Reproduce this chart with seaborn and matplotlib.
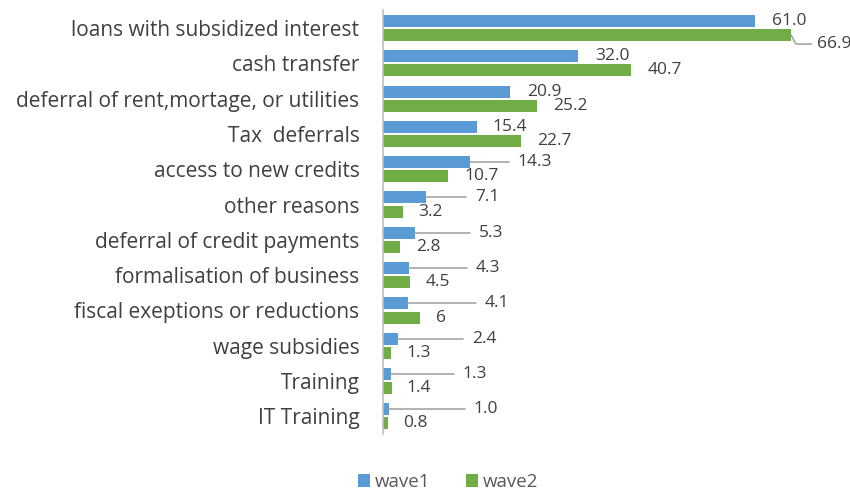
import matplotlib
matplotlib.use("Agg")
import matplotlib.pyplot as plt
import seaborn as sns
import pandas as pd
from matplotlib.patches import Patch

categories = ["loans with subsidized interest", "cash transfer",
              "deferral of rent,mortage, or utilities", "Tax  deferrals",
              "access to new credits", "other reasons",
              "deferral of credit payments", "formalisation of business",
              "fiscal exeptions or reductions", "wage subsidies",
              "Training", "IT Training"]
wave1 = [61.0, 32.0, 20.9, 15.4, 14.3, 7.1, 5.3, 4.3, 4.1, 2.4, 1.3, 1.0]
wave2 = [66.9, 40.7, 25.2, 22.7, 10.7, 3.2, 2.8, 4.5, 6.0, 1.3, 1.4, 0.8]
wave1_labels = ["61.0", "32.0", "20.9", "15.4", "14.3", "7.1", "5.3", "4.3", "4.1", "2.4", "1.3", "1.0"]
wave2_labels = ["66.9", "40.7", "25.2", "22.7", "10.7", "3.2", "2.8", "4.5", "6", "1.3", "1.4", "0.8"]
series = ["wave1", "wave2"]

# label placement (data-unit x of text left edge), style only
w1_lx = [63.8, 34.8, 23.6, 18.0, 22.1, 15.1, 15.7, 15.2, 16.7, 14.6, 13.1, 14.9]
w2_lx = [71.2, 43.4, 27.9, 25.2, 13.4, 5.7, 5.4, 7.0, 8.7, 3.9, 3.9, 3.3]

df = pd.DataFrame({
    "category": categories * 2,
    "value": wave1 + wave2,
    "series": [series[0]] * len(categories) + [series[1]] * len(categories),
})

colors = {"wave1": "#5B9BD5", "wave2": "#70AD47"}
txt = "#404040"
font = ["Open Sans", "DejaVu Sans"]

sns.set_theme(style="white")
plt.rcParams["font.family"] = font

fig = plt.figure(figsize=(8.5, 4.92), dpi=100)
ax = fig.add_axes([383 / 850, 1 - 434 / 492, 467 / 850, 423.6 / 492])
sns.barplot(data=df, y="category", x="value", hue="series", orient="h",
            palette=colors, saturation=1, width=0.8, gap=0.15, ax=ax,
            legend=False, edgecolor="none")
ax.set_xlim(0, 467 / 6.1)
ax.set_ylim(11.5, -0.5)
ax.set_xlabel("")
ax.set_ylabel("")
ax.set_xticks([])
for s in ["top", "right", "bottom"]:
    ax.spines[s].set_visible(False)
ax.spines["left"].set_color("#BFBFBF")
ax.spines["left"].set_linewidth(1.2)
ax.tick_params(axis="y", length=0, pad=17, labelsize=15, labelcolor=txt)

px = 1 / 6.1  # data units per pixel in x
line_col = "#A6A6A6"

for cont, vals, labs, lxs, sname in [(ax.containers[0], wave1, wave1_labels, w1_lx, "wave1"),
                                    (ax.containers[1], wave2, wave2_labels, w2_lx, "wave2")]:
    for i, (bar, v, lab, lx) in enumerate(zip(cont, vals, labs, lxs)):
        yc = bar.get_y() + bar.get_height() / 2
        ty = yc
        if sname == "wave2" and i == 0:
            ty = yc + 9 / 35.3
            ax.plot([v, v + 5 * px, lx - 6 * px], [yc, ty, ty],
                    color=line_col, lw=1.2, clip_on=False)
        if sname == "wave1" and i >= 4:
            ax.plot([v, lx - 9 * px], [yc, yc], color=line_col, lw=1.2, clip_on=False)
        ax.text(lx, ty, lab, ha="left", va="center", fontsize=12.5, color=txt,
                clip_on=False)

handles = [Patch(facecolor=colors[s], edgecolor="none", label=s) for s in series]
fig.legend(handles=handles, loc="center", bbox_to_anchor=(448 / 850, 1 - 482 / 492),
           ncol=2, frameon=False, fontsize=13.5, handlelength=0.65, handleheight=0.65,
           handletextpad=0.25, columnspacing=1.9, labelcolor="#595959",
           borderpad=0.1)

fig.savefig("out.png", dpi=100)
